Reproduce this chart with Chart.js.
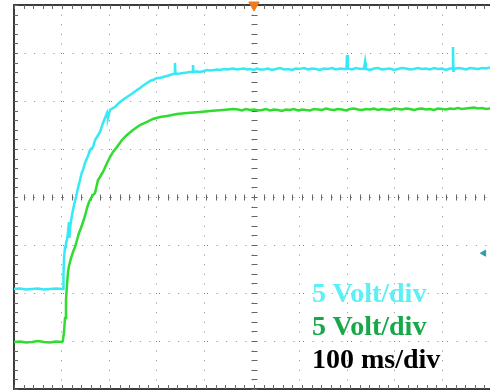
<!DOCTYPE html>
<html>
<head>
<meta charset="utf-8">
<script src="https://cdn.jsdelivr.net/npm/chart.js@4.4.1/dist/chart.umd.min.js"></script>
<style>
  html, body { margin: 0; padding: 0; background: #ffffff; overflow: hidden; }
  #wrap { position: relative; width: 490px; height: 392px; }
  canvas { display: block; }
  .lbl { position: absolute; left: 312px; font-family: "Liberation Serif", "Times New Roman", serif;
         font-weight: bold; font-size: 28px; line-height: 28px; white-space: nowrap; }
</style>
</head>
<body>
<div id="wrap">
  <canvas id="c" width="490" height="392"></canvas>
  <div class="lbl" id="l1" style="top:279px;color:#5cf0f4;"></div>
  <div class="lbl" id="l2" style="top:312px;color:#17a84a;"></div>
  <div class="lbl" id="l3" style="top:345px;color:#000000;"></div>
</div>
<script>
// ---- Data (time in ms, amplitude in screen divisions) ----
const labels = ["5 Volt/div", "5 Volt/div", "100 ms/div"];

const cyanT = [
  0, 12.5, 25, 37.5, 50, 62.5, 75, 87.5, 100, 102.1,
  103.1, 104.2, 106.3, 108.3, 110.4, 112.5, 114.6, 115.6, 116.7, 120.8,
  125, 129.2, 133.3, 137.5, 141.7, 143.8, 147.9, 154.2, 158.3, 164.6,
  168.8, 172.9, 179.2, 185.4, 189.6, 193.8, 195.8, 200, 206.3, 210.4,
  216.7, 220.8, 229.2, 235.4, 241.7, 247.9, 256.3, 262.5, 270.8, 277.1,
  283.3, 289.6, 297.9, 304.2, 310.4, 318.8, 325, 331.3, 334.4, 335.4, 336.4, 337.5,
  345.8, 352.1, 360.4, 366.7, 371.9, 372.9, 373.9, 375, 381.3, 387.5, 395.8, 402.1,
  408.3, 416.7, 422.9, 429.2, 437.5, 443.8, 450, 456.3, 464.6, 470.8,
  479.2, 485.4, 491.7, 500, 506.3, 512.5,
  520.8, 529.2, 537.5, 545.8, 554.2, 562.5, 570.8, 579.2, 587.5, 595.8,
  604.2, 612.5, 620.8, 629.2, 637.5, 645.8, 654.2, 662.5, 670.8, 679.2, 687.5,
  692.7, 693.8, 694.8,
  695.8, 704.2, 712.5, 720.8, 729.2,
  730.3, 731.3, 732.3,
  733.3, 741.7, 750, 758.3, 766.7, 775, 783.3, 791.7, 800, 808.3,
  816.7, 825, 833.3, 841.7, 850, 858.3, 866.7, 875, 883.3, 891.7, 900, 908.3,
  913.6, 914.6, 915.6,
  916.7, 925, 933.3, 941.7, 950, 958.3, 966.7, 975, 983.3, 991.7
];
const cyanV = [
  2.083, 2.094, 2.073, 2.083, 2.094, 2.073, 2.083, 2.094, 2.083, 2.083,
  2.375, 2.729, 2.958, 3.042, 3.104, 3.271, 3.479, 3.146, 3.354, 3.625,
  3.833, 4.0, 4.188, 4.354, 4.521, 4.563, 4.708, 4.854, 4.979, 5.042,
  5.188, 5.25, 5.354, 5.542, 5.646, 5.75, 5.646, 5.813, 5.854, 5.875,
  5.938, 5.979, 6.042, 6.083, 6.125, 6.167, 6.229, 6.271, 6.333, 6.375,
  6.417, 6.438, 6.479, 6.479, 6.5, 6.521, 6.542, 6.563, 6.563, 6.792, 6.563, 6.563,
  6.573, 6.583, 6.594, 6.604, 6.604, 6.75, 6.604, 6.604, 6.615, 6.604, 6.625, 6.646,
  6.635, 6.646, 6.656, 6.646, 6.667, 6.656, 6.667, 6.677, 6.656, 6.667,
  6.677, 6.656, 6.667, 6.646, 6.677, 6.656,
  6.656, 6.677, 6.646, 6.667, 6.688, 6.656, 6.667, 6.646, 6.677, 6.667,
  6.688, 6.656, 6.677, 6.667, 6.646, 6.677, 6.667, 6.688, 6.656, 6.677, 6.667,
  6.667, 6.958, 6.667,
  6.677, 6.656, 6.688, 6.667, 6.677,
  6.677, 6.813, 6.667,
  6.667, 6.646, 6.677, 6.688, 6.656, 6.667, 6.677, 6.646, 6.667, 6.688,
  6.677, 6.656, 6.667, 6.688, 6.667, 6.677, 6.656, 6.688, 6.667, 6.677, 6.646, 6.677,
  6.677, 7.125, 6.604,
  6.667, 6.688, 6.677, 6.656, 6.688, 6.677, 6.667, 6.688, 6.677, 6.698
];

const greenT = [
  0, 12.5, 25, 37.5, 50, 62.5, 75, 87.5, 100, 102.1,
  104.2, 106.3, 108.3, 110.4, 112.5, 114.6, 118.8, 122.9, 127.1, 131.3,
  135.4, 139.6, 143.8, 147.9, 152.1, 156.3, 160.4, 164.6, 168.8, 175,
  179.2, 185.4, 193.8, 200, 206.3, 214.6, 225, 235.4, 247.9, 262.5,
  277.1, 289.6, 304.2, 318.8, 329.2, 339.6, 350, 360.4, 375, 387.5,
  397.9, 408.3, 420.8, 435.4, 445.8, 456.3,
  466.7, 475, 483.3, 491.7, 500, 508.3, 516.7, 525, 533.3, 541.7,
  550, 558.3, 566.7, 575, 583.3, 591.7, 600, 608.3, 616.7, 625,
  633.3, 641.7, 650, 658.3, 666.7, 675, 683.3, 691.7, 700, 708.3,
  716.7, 725, 733.3, 741.7, 750, 758.3, 766.7, 775, 783.3, 791.7,
  800, 808.3, 816.7, 825, 833.3, 841.7, 850, 858.3, 866.7, 875,
  883.3, 891.7, 900, 908.3, 916.7, 925, 933.3, 941.7, 950, 958.3,
  966.7, 975, 983.3, 991.7
];
const greenV = [
  0.979, 0.99, 0.969, 0.979, 1.0, 0.979, 0.969, 0.99, 0.979, 1.021,
  1.188, 1.479, 1.854, 2.167, 2.438, 2.563, 2.729, 2.854, 2.958, 3.104,
  3.25, 3.354, 3.479, 3.604, 3.771, 3.896, 3.979, 4.042, 4.083, 4.354,
  4.417, 4.521, 4.708, 4.833, 4.938, 5.042, 5.188, 5.292, 5.396, 5.5,
  5.563, 5.625, 5.667, 5.688, 5.708, 5.729, 5.74, 5.75, 5.76, 5.771,
  5.781, 5.792, 5.802, 5.813, 5.823, 5.833,
  5.823, 5.802, 5.833, 5.813, 5.823, 5.802, 5.813, 5.833, 5.802, 5.823,
  5.813, 5.792, 5.823, 5.813, 5.833, 5.802, 5.823, 5.813, 5.802, 5.833,
  5.823, 5.813, 5.844, 5.823, 5.813, 5.833, 5.823, 5.802, 5.833, 5.844,
  5.823, 5.813, 5.833, 5.823, 5.844, 5.813, 5.833, 5.823, 5.813, 5.844,
  5.833, 5.823, 5.844, 5.833, 5.813, 5.833, 5.844, 5.823, 5.833, 5.813,
  5.844, 5.833, 5.823, 5.844, 5.833, 5.854, 5.833, 5.844, 5.854, 5.865,
  5.844, 5.854, 5.833, 5.844
];

// screen markers: trigger position (top) and trigger level (right)
const triggerPos = [500, 8];
const triggerLevel = [979, 2.83];

const X_MIN = 0, X_MAX = 991.7, Y_MIN = 0, Y_MAX = 8;

document.getElementById('l1').textContent = labels[0];
document.getElementById('l2').textContent = labels[1];
document.getElementById('l3').textContent = labels[2];

function pts(t, v) {
  const n = Math.min(t.length, v.length);
  const out = [];
  for (let i = 0; i < n; i++) out.push({ x: t[i], y: v[i] });
  return out;
}

const graticule = {
  id: 'graticule',
  beforeDatasetsDraw(chart) {
    const { ctx, chartArea: a, scales } = chart;
    const xs = scales.x, ys = scales.y;
    ctx.save();
    ctx.strokeStyle = '#666666';
    ctx.lineWidth = 1;
    ctx.beginPath();
    const cx = Math.round(xs.getPixelForValue(500)) + 0.5;
    const cy = Math.round(ys.getPixelForValue(4)) + 0.5;
    for (let t = 0; t <= X_MAX + 0.01; t += 20) {
      const px = Math.round(xs.getPixelForValue(t)) + 0.5;
      ctx.moveTo(px, a.top); ctx.lineTo(px, a.top + 4);
      ctx.moveTo(px, a.bottom); ctx.lineTo(px, a.bottom - 4);
      ctx.moveTo(px, cy - 3); ctx.lineTo(px, cy + 3);
    }
    for (let v = 0; v <= Y_MAX + 0.001; v += 0.2) {
      const py = Math.round(ys.getPixelForValue(v)) + 0.5;
      ctx.moveTo(a.left, py); ctx.lineTo(a.left + 4, py);
      ctx.moveTo(cx - 3, py); ctx.lineTo(cx + 3, py);
    }
    ctx.stroke();
    ctx.restore();
  }
};

new Chart(document.getElementById('c'), {
  type: 'line',
  data: {
    datasets: [
      { label: 'ch1', data: pts(cyanT, cyanV), borderColor: '#36e9f4', borderWidth: 2.5, pointRadius: 0, tension: 0 },
      { label: 'ch2', data: pts(greenT, greenV), borderColor: '#30dc30', borderWidth: 2.5, pointRadius: 0, tension: 0 },
      { label: 'trig', type: 'scatter', data: [{ x: triggerPos[0], y: triggerPos[1] }], pointStyle: 'triangle',
        rotation: 180, pointRadius: 6, backgroundColor: '#f07a1e', borderColor: '#f07a1e', clip: false },
      { label: 'level', type: 'scatter', data: [{ x: triggerLevel[0], y: triggerLevel[1] }], pointStyle: 'triangle',
        rotation: 270, pointRadius: 3.5, backgroundColor: '#2a9fa6', borderColor: '#2a9fa6', clip: false }
    ]
  },
  options: {
    responsive: false,
    animation: false,
    events: [],
    layout: { autoPadding: false, padding: { left: 14, right: 0, top: 5, bottom: 3 } },
    plugins: { legend: { display: false }, tooltip: { enabled: false }, title: { display: false } },
    scales: {
      x: {
        type: 'linear', min: X_MIN, max: X_MAX, position: 'bottom',
        ticks: { display: false, stepSize: 100, includeBounds: false },
        grid: { color: '#888888', lineWidth: 1, drawTicks: false },
        border: { display: true, color: '#3c3c3c', width: 2, dash: [1, 8.6] }
      },
      xTop: {
        type: 'linear', min: X_MIN, max: X_MAX, position: 'top',
        ticks: { display: false }, grid: { display: false, drawTicks: false },
        border: { display: true, color: '#3c3c3c', width: 2 }
      },
      y: {
        type: 'linear', min: Y_MIN, max: Y_MAX,
        ticks: { display: false, stepSize: 1 },
        grid: { color: '#888888', lineWidth: 1, drawTicks: false },
        border: { display: true, color: '#3c3c3c', width: 2, dash: [1, 8.6] }
      }
    }
  },
  plugins: [graticule]
});
</script>
</body>
</html>
